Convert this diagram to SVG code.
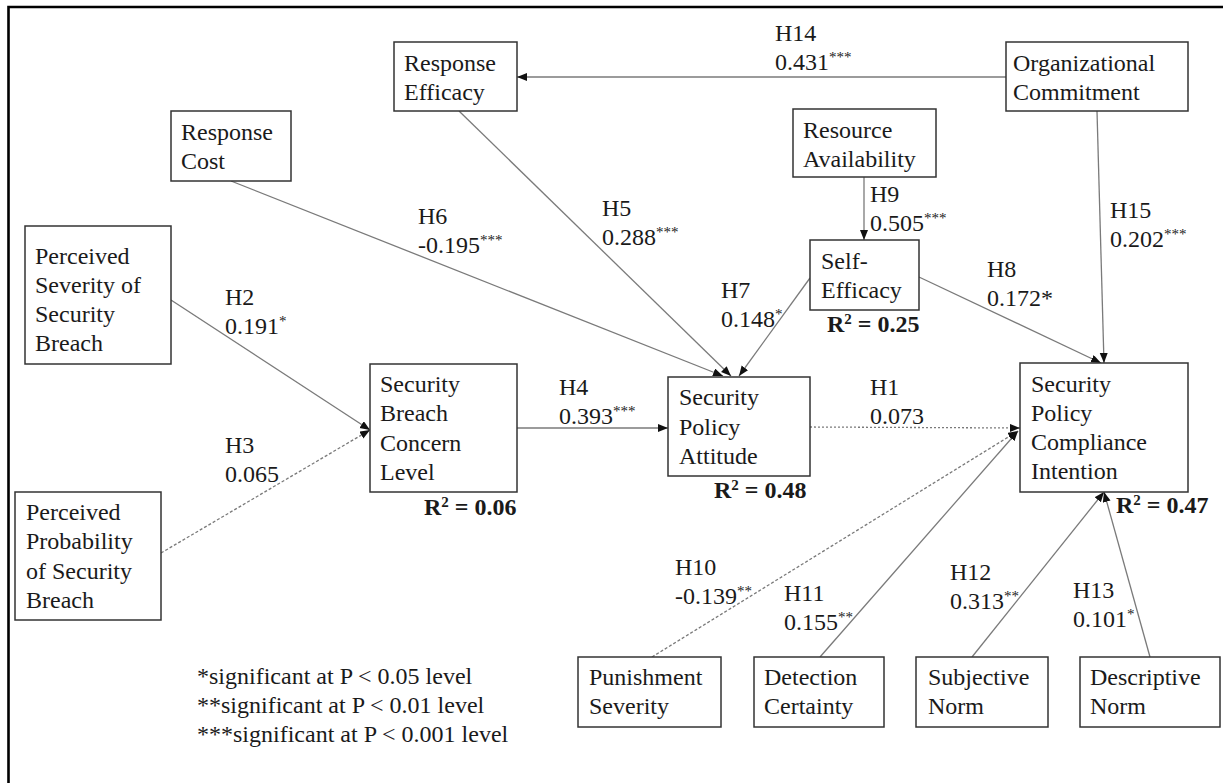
<svg xmlns="http://www.w3.org/2000/svg" width="1223" height="783" viewBox="0 0 1223 783">
<defs>
<style>
text{font-family:"Liberation Serif","Times New Roman",serif;font-size:24px;fill:#1a1a1a}
.box{fill:#fff;stroke:#333;stroke-width:1.5}
.r2{font-weight:bold}
.sup{font-size:15px}
.c{stroke:#7a7a7a;stroke-width:1.3;fill:none}
.dash{stroke-dasharray:3 2}
.dot{stroke-dasharray:2 2}
.arr{marker-end:url(#ah)}
</style>
<marker id="ah" markerUnits="userSpaceOnUse" markerWidth="12" markerHeight="10" refX="10" refY="4" orient="auto">
<path d="M0,0 L10,4 L0,8 Z" fill="#111"/>
</marker>
</defs>
<rect width="1223" height="783" fill="#fff"/>
<path d="M8.5,783 V7 H1223" fill="none" stroke="#000" stroke-width="2.6"/>

<g id="connectors">
<line class="c arr" x1="1006" y1="77" x2="517" y2="77"/>
<line class="c arr" x1="231" y1="181" x2="723" y2="376"/>
<line class="c arr" x1="459" y1="111" x2="731" y2="376"/>
<line class="c arr" x1="810" y1="278" x2="739" y2="376"/>
<line class="c arr" x1="864" y1="177" x2="864" y2="240"/>
<line class="c arr" x1="171" y1="300" x2="370" y2="430"/>
<line class="c dash arr" x1="161" y1="553" x2="370" y2="430"/>
<line class="c arr" x1="517" y1="428" x2="668" y2="428"/>
<line class="c dot arr" x1="810" y1="427" x2="1020" y2="428"/>
<line class="c arr" x1="919" y1="277" x2="1101" y2="363"/>
<line class="c arr" x1="1097" y1="111" x2="1104" y2="363"/>
<line class="c dash arr" x1="652" y1="657" x2="1018" y2="431"/>
<line class="c arr" x1="820" y1="657" x2="1018" y2="431"/>
<line class="c arr" x1="972" y1="657" x2="1104" y2="492"/>
<line class="c arr" x1="1150" y1="657" x2="1104" y2="492"/>
</g>

<g id="edge-labels">
<text x="775" y="41">H14</text><text x="775" y="70">0.431<tspan class="sup" baseline-shift="super">***</tspan></text>
<text x="418" y="224">H6</text><text x="418" y="253">-0.195<tspan class="sup" baseline-shift="super">***</tspan></text>
<text x="602" y="216">H5</text><text x="602" y="245">0.288<tspan class="sup" baseline-shift="super">***</tspan></text>
<text x="870" y="202">H9</text><text x="870" y="231">0.505<tspan class="sup" baseline-shift="super">***</tspan></text>
<text x="1110" y="218">H15</text><text x="1110" y="247">0.202<tspan class="sup" baseline-shift="super">***</tspan></text>
<text x="225" y="305">H2</text><text x="225" y="334">0.191<tspan class="sup" baseline-shift="super">*</tspan></text>
<text x="225" y="453">H3</text><text x="225" y="482">0.065</text>
<text x="559" y="395">H4</text><text x="559" y="424">0.393<tspan class="sup" baseline-shift="super">***</tspan></text>
<text x="721" y="298">H7</text><text x="721" y="327">0.148<tspan class="sup" baseline-shift="super">*</tspan></text>
<text x="987" y="277">H8</text><text x="987" y="306">0.172*</text>
<text x="870" y="395">H1</text><text x="870" y="424">0.073</text>
<text x="675" y="575">H10</text><text x="675" y="604">-0.139<tspan class="sup" baseline-shift="super">**</tspan></text>
<text x="784" y="601">H11</text><text x="784" y="630">0.155<tspan class="sup" baseline-shift="super">**</tspan></text>
<text x="950" y="580">H12</text><text x="950" y="609">0.313<tspan class="sup" baseline-shift="super">**</tspan></text>
<text x="1073" y="598">H13</text><text x="1073" y="627">0.101<tspan class="sup" baseline-shift="super">*</tspan></text>
</g>

<g id="response-efficacy"><rect class="box" x="394" y="42" width="123" height="69"/><text x="404" y="71">Response</text><text x="404" y="100">Efficacy</text></g>
<g id="response-cost"><rect class="box" x="171" y="111" width="120" height="70"/><text x="181" y="140">Response</text><text x="181" y="169">Cost</text></g>
<g id="organizational-commitment"><rect class="box" x="1006" y="42" width="182" height="69"/><text x="1013" y="71">Organizational</text><text x="1013" y="100">Commitment</text></g>
<g id="resource-availability"><rect class="box" x="793" y="109" width="143" height="68"/><text x="803" y="138">Resource</text><text x="803" y="167">Availability</text></g>
<g id="self-efficacy"><rect class="box" x="810" y="240" width="109" height="70"/><text x="821" y="269">Self-</text><text x="821" y="298">Efficacy</text><text class="r2" x="827" y="332">R<tspan class="sup" baseline-shift="super">2</tspan> = 0.25</text></g>
<g id="perceived-severity"><rect class="box" x="25" y="226" width="146" height="138"/><text x="35" y="264">Perceived</text><text x="35" y="293">Severity of</text><text x="35" y="322">Security</text><text x="35" y="351">Breach</text></g>
<g id="perceived-probability"><rect class="box" x="15" y="492" width="146" height="128"/><text x="26" y="520">Perceived</text><text x="26" y="549">Probability</text><text x="26" y="579">of Security</text><text x="26" y="608">Breach</text></g>
<g id="security-breach-concern-level"><rect class="box" x="370" y="364" width="147" height="128"/><text x="380" y="392">Security</text><text x="380" y="421">Breach</text><text x="380" y="451">Concern</text><text x="380" y="480">Level</text><text class="r2" x="424" y="515">R<tspan class="sup" baseline-shift="super">2</tspan> = 0.06</text></g>
<g id="security-policy-attitude"><rect class="box" x="668" y="377" width="142" height="99"/><text x="679" y="405">Security</text><text x="679" y="435">Policy</text><text x="679" y="464">Attitude</text><text class="r2" x="714" y="498">R<tspan class="sup" baseline-shift="super">2</tspan> = 0.48</text></g>
<g id="security-policy-compliance-intention"><rect class="box" x="1020" y="363" width="168" height="129"/><text x="1031" y="392">Security</text><text x="1031" y="421">Policy</text><text x="1031" y="450">Compliance</text><text x="1031" y="479">Intention</text><text class="r2" x="1116" y="513">R<tspan class="sup" baseline-shift="super">2</tspan> = 0.47</text></g>
<g id="punishment-severity"><rect class="box" x="578" y="657" width="143" height="70"/><text x="589" y="685">Punishment</text><text x="589" y="714">Severity</text></g>
<g id="detection-certainty"><rect class="box" x="754" y="657" width="130" height="70"/><text x="764" y="685">Detection</text><text x="764" y="714">Certainty</text></g>
<g id="subjective-norm"><rect class="box" x="916" y="657" width="132" height="70"/><text x="928" y="685">Subjective</text><text x="928" y="714">Norm</text></g>
<g id="descriptive-norm"><rect class="box" x="1080" y="657" width="140" height="70"/><text x="1090" y="685">Descriptive</text><text x="1090" y="714">Norm</text></g>

<g id="legend">
<text x="197" y="684">*significant at P &lt; 0.05 level</text>
<text x="197" y="713">**significant at P &lt; 0.01 level</text>
<text x="197" y="742">***significant at P &lt; 0.001 level</text>
</g>
</svg>
